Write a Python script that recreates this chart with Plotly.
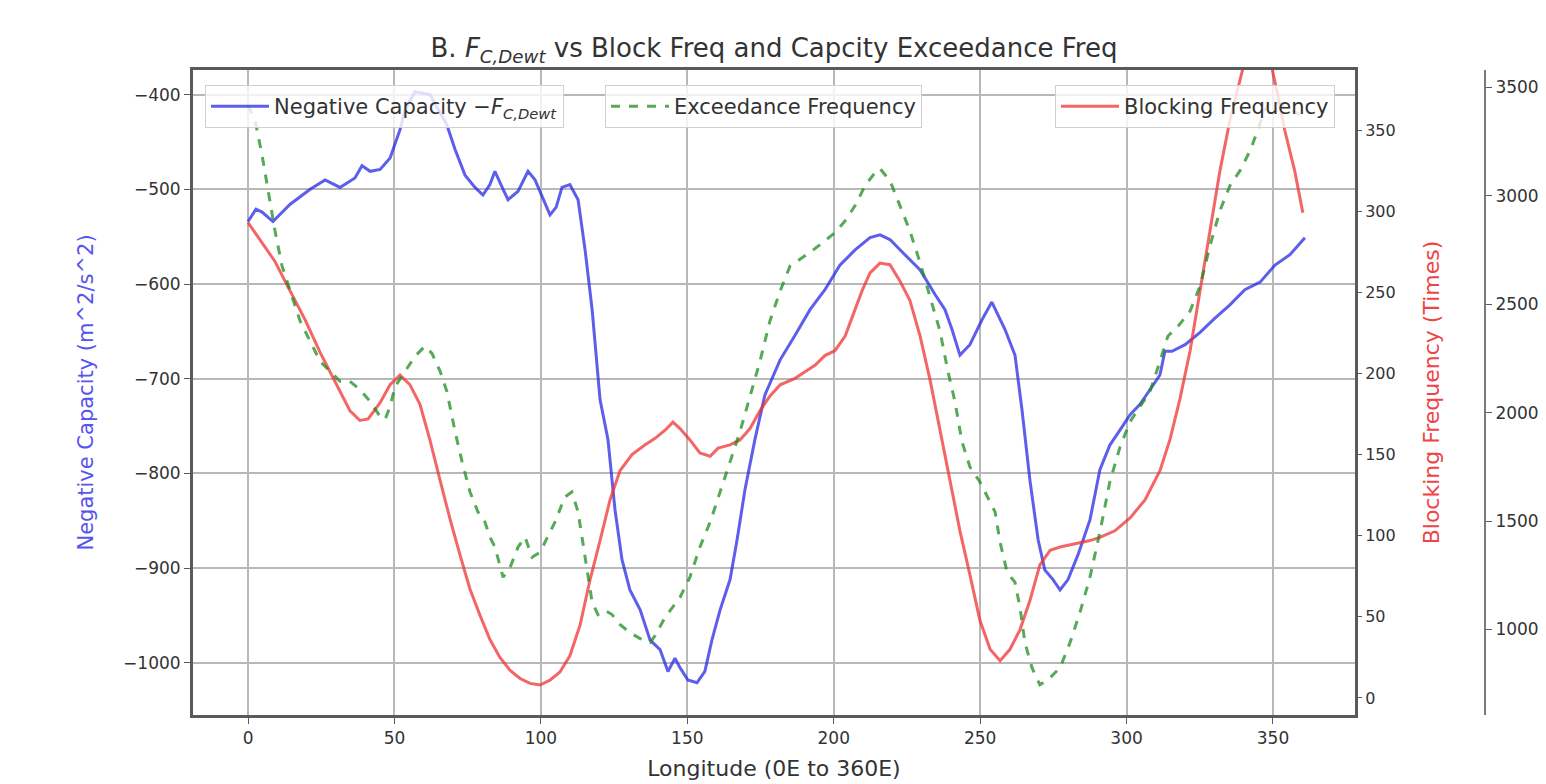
import plotly.graph_objects as go

# ---- data ----
lon_cap = [0, 2.7, 4.8, 8.5, 14.3, 21.2, 26.3, 31.4, 36.5, 38.9, 41.7, 45.1, 48.5, 51.9, 53.6, 57.0, 62.1,
           67.9, 70.7, 74.1, 77.5, 80.2, 82.6, 84.3, 87.1, 88.8, 92.2, 95.6, 98.0, 101.4, 103.1, 105.2, 107.2,
           109.9, 112.7, 115.1, 117.5, 120.2, 122.9, 125.3, 127.7, 130.4, 133.9, 137.3, 140.7, 143.4, 145.8,
           147.5, 150.2, 153.3, 156.0, 158.4, 161.2, 164.6, 167.0, 169.7, 173.1, 176.5, 181.7, 186.8, 191.9,
           197.0, 202.1, 207.3, 212.4, 215.8, 219.2, 224.3, 229.5, 234.6, 238.0, 240.4, 243.1, 246.5, 250.6,
           254.0, 256.1, 258.5, 261.9, 264.3, 267.0, 269.8, 272.1, 274.9, 277.3, 280.0, 283.4, 287.5, 290.9,
           294.3, 297.8, 301.2, 304.6, 308.0, 311.4, 313.1, 315.5, 320.0, 325.1, 330.2, 335.3, 340.4, 345.6,
           350.7, 355.8, 360.9]
neg_capacity = [-534, -521, -524, -534, -516, -500, -490, -498, -488, -475, -481, -479, -467, -437, -416, -397, -400,
                -432, -458, -485, -498, -506, -495, -481, -500, -511, -502, -481, -490, -516, -527, -519, -498,
                -495, -511, -564, -627, -722, -764, -838, -891, -923, -944, -976, -986, -1009, -995,
                -1005, -1018, -1021, -1009, -976, -944, -912, -870, -817, -764, -717, -680, -654, -627,
                -606, -580, -564, -551, -548, -553, -569, -585, -611, -627, -648, -675, -664, -638,
                -619, -632, -648, -675, -733, -807, -870, -902, -912, -923, -912, -886, -849, -796,
                -770, -754, -738, -727, -712, -696, -671, -671, -664, -651, -636, -622, -606, -598,
                -580, -569, -551]

lon_exc = [0, 2.4, 4.8, 6.8, 9.2, 11.6, 14.3, 17.8, 21.2, 24.6, 28.0, 31.4, 34.8, 38.2, 41.7, 45.1, 46.8,
           48.5, 50.2, 53.6, 57.0, 60.4, 62.8, 65.6, 67.9, 70.7, 73.1, 75.8, 78.5, 80.9, 82.6, 84.3, 87.1,
           89.5, 92.2, 94.6, 97.0, 99.7, 102.4, 104.8, 108.2, 110.6, 112.7, 115.1, 117.5, 119.5, 121.9,
           124.3, 127.0, 130.4, 133.9, 137.3, 139.0, 142.4, 147.5, 150.9, 154.3, 157.8, 161.2, 164.6,
           168.0, 171.4, 174.8, 178.2, 181.7, 185.1, 188.5, 192.6, 197.0, 200.4, 203.9, 207.3, 210.7,
           214.1, 215.8, 219.2, 222.6, 226.0, 229.5, 232.9, 236.3, 239.0, 241.4, 243.8, 246.5, 249.9,
           253.4, 255.1, 256.8, 259.2, 261.9, 263.6, 265.3, 267.7, 270.4, 273.9, 277.3, 280.7, 284.1,
           287.5, 290.9, 294.3, 297.8, 301.2, 304.6, 308.0, 311.4, 314.1, 317.6, 321.7, 325.1, 328.5,
           331.9, 335.3, 338.8, 342.2, 344.8, 347.2, 349.6, 353.0, 357.0, 360.9]
exceedance_freq = [3417, 3347, 3185, 3023, 2838, 2676, 2560, 2421, 2329, 2236, 2190, 2144, 2144, 2106, 2051, 1981, 1968,
                   2028, 2120, 2190, 2259, 2306, 2273, 2190, 2097, 1912, 1773, 1634, 1542, 1495, 1426, 1380, 1241,
                   1287, 1380, 1426, 1333, 1356, 1426, 1495, 1611, 1634, 1542, 1333, 1125, 1069, 1088,
                   1069, 1023, 986, 958, 940, 972, 1056, 1148, 1241, 1380, 1495, 1634, 1773,
                   1912, 2074, 2236, 2421, 2560, 2676, 2708, 2745, 2792, 2829, 2884, 2954, 3046,
                   3106, 3125, 3069, 2954, 2838, 2690, 2537, 2375, 2190, 2051, 1866, 1750, 1681,
                   1588, 1542, 1403, 1264, 1218, 1102, 940, 824, 745, 778, 824, 940, 1079,
                   1241, 1449, 1681, 1843, 1958, 2028, 2097, 2236, 2352, 2398, 2468, 2583, 2769,
                   2931, 3046, 3116, 3208, 3301, 3394, 3440, 3420, 3390, 3360]

lon_blk = [0, 4.1, 9.2, 14.3, 19.5, 24.6, 29.7, 34.8, 38.2, 41.0, 45.1, 48.5, 51.9, 55.3, 58.7, 62.1, 65.6,
           69.0, 72.4, 75.8, 79.2, 82.6, 86.0, 89.5, 92.9, 96.3, 99.7, 103.1, 106.5, 109.9, 113.4, 116.8,
           120.2, 123.6, 127.0, 131.1, 135.6, 139.0, 142.4, 145.1, 147.5, 150.9, 154.3, 157.8, 160.5,
           164.6, 168.0, 171.4, 174.8, 178.2, 181.7, 186.8, 190.2, 193.6, 197.0, 200.4, 203.9, 207.3,
           209.7, 212.4, 215.8, 219.2, 222.6, 226.0, 229.5, 232.9, 236.3, 239.7, 243.1, 246.5, 249.9,
           253.4, 256.8, 260.2, 263.6, 267.0, 270.4, 273.9, 277.3, 282.4, 287.5, 290.9, 296.0, 301.2,
           306.3, 311.4, 314.8, 318.2, 321.7, 325.1, 328.5, 331.9, 335.3, 338.0, 341.4, 344.8, 348.2,
           351.6, 354.0, 357.4, 360.2]
blocking_freq = [293, 282, 269, 251, 233, 213, 195, 177, 171, 172, 182, 193, 199, 193, 181, 159, 134,
                 110, 88, 67, 51, 36, 25, 17, 12, 9, 8, 11, 16, 26, 45, 73,
                 97, 122, 140, 150, 156, 160, 165, 170, 166, 159, 151, 149, 154,
                 156, 159, 166, 177, 186, 193, 197, 201, 205, 211, 214, 223, 239,
                 251, 262, 268, 267, 257, 245, 223, 196, 165, 134, 103, 76, 48,
                 30, 23, 30, 42, 60, 82, 91, 93, 95, 97, 99, 103, 111,
                 122, 140, 159, 184, 214, 251, 288, 325, 356, 375, 400, 412, 400,
                 372, 350, 325, 299]

x_ticks = [0, 50, 100, 150, 200, 250, 300, 350]
cap_ticks = [-400, -500, -600, -700, -800, -900, -1000]
blk_ticks = [0, 50, 100, 150, 200, 250, 300, 350]
exc_ticks = [1000, 1500, 2000, 2500, 3000, 3500]

FONT = "DejaVu Sans"
TXT = "#333333"
GRID = "#b8b8b8"
SPINE = "#5a5a5a"

fig = go.Figure()
fig.add_trace(go.Scatter(x=lon_cap, y=neg_capacity, mode="lines",
                         name="Negative Capacity −<i>F<sub>C,Dewt</sub></i>",
                         line=dict(color="rgba(40,40,230,0.75)", width=3),
                         yaxis="y", legend="legend"))
fig.add_trace(go.Scatter(x=lon_exc, y=exceedance_freq, mode="lines",
                         name="Exceedance Frequency",
                         line=dict(color="rgba(30,140,30,0.75)", width=3, dash="dash"),
                         yaxis="y3", legend="legend2"))
fig.add_trace(go.Scatter(x=lon_blk, y=blocking_freq, mode="lines",
                         name="Blocking Frequency",
                         line=dict(color="rgba(240,50,50,0.75)", width=3),
                         yaxis="y2", legend="legend3"))

x_end = 0.8652
leg_common = dict(bgcolor="rgba(255,255,255,0.8)", bordercolor="#d0d0d0", borderwidth=1,
                  font=dict(family=FONT, size=21, color=TXT), xanchor="left", yanchor="top",
                  orientation="v", itemwidth=58)

fig.update_layout(
    width=1546, height=784,
    margin=dict(l=193, r=10, t=70, b=69, autoexpand=False),
    paper_bgcolor="white", plot_bgcolor="white",
    font=dict(family=FONT, color=TXT),
    showlegend=True,
    title=dict(text="B. <i>F<sub>C,Dewt</sub></i> vs Block Freq and Capcity Exceedance Freq",
               x=(193 + 1355) / 2 / 1546, xanchor="center", y=1 - 48 / 784, yanchor="middle",
               font=dict(family=FONT, size=26, color=TXT)),
    xaxis=dict(domain=[0, x_end], range=[-18.8, 378], tickvals=x_ticks,
               showgrid=True, gridcolor=GRID, gridwidth=2, zeroline=False,
               showline=True, linecolor=SPINE, linewidth=3, mirror=True,
               ticks="outside", ticklen=6, tickcolor=SPINE, automargin=False,
               tickfont=dict(family=FONT, size=17, color=TXT),
               title=dict(text="Longitude (0E to 360E)", font=dict(family=FONT, size=22, color=TXT),
                          standoff=14)),
    yaxis=dict(range=[-1055, -374], tickvals=cap_ticks,
               showgrid=True, gridcolor=GRID, gridwidth=2, zeroline=False,
               showline=True, linecolor=SPINE, linewidth=3, mirror=True,
               ticks="outside", ticklen=6, tickcolor=SPINE, automargin=False,
               tickfont=dict(family=FONT, size=17, color=TXT),
               title=dict(text="Negative Capacity (m^2/s^2)", font=dict(family=FONT, size=21, color="#5555ee"),
                          standoff=24)),
    yaxis2=dict(range=[-10.5, 387], tickvals=blk_ticks, overlaying="y", side="right", anchor="x",
                showgrid=False, zeroline=False, showline=False,
                ticks="outside", ticklen=6, tickcolor=SPINE, automargin=False,
                tickfont=dict(family=FONT, size=16, color=TXT),
                title=dict(text="Blocking Frequency (Times)", font=dict(family=FONT, size=22, color="#ee4444"),
                           standoff=28)),
    yaxis3=dict(range=[606, 3579], tickvals=exc_ticks, overlaying="y", side="right",
                anchor="free", position=(1485 - 193) / 1343,
                showgrid=False, zeroline=False, showline=True, linecolor="#7a7a7a", linewidth=2,
                ticks="outside", ticklen=6, tickcolor=SPINE, automargin=False,
                tickfont=dict(family=FONT, size=17, color=TXT)),
    legend=dict(x=(205 - 193) / 1343, y=1 - (85 - 70) / 645, **leg_common),
    legend2=dict(x=(605 - 193) / 1343, y=1 - (85 - 70) / 645, **leg_common),
    legend3=dict(x=(1055 - 193) / 1343, y=1 - (85 - 70) / 645, **leg_common),
)

fig.write_html("out.html")
